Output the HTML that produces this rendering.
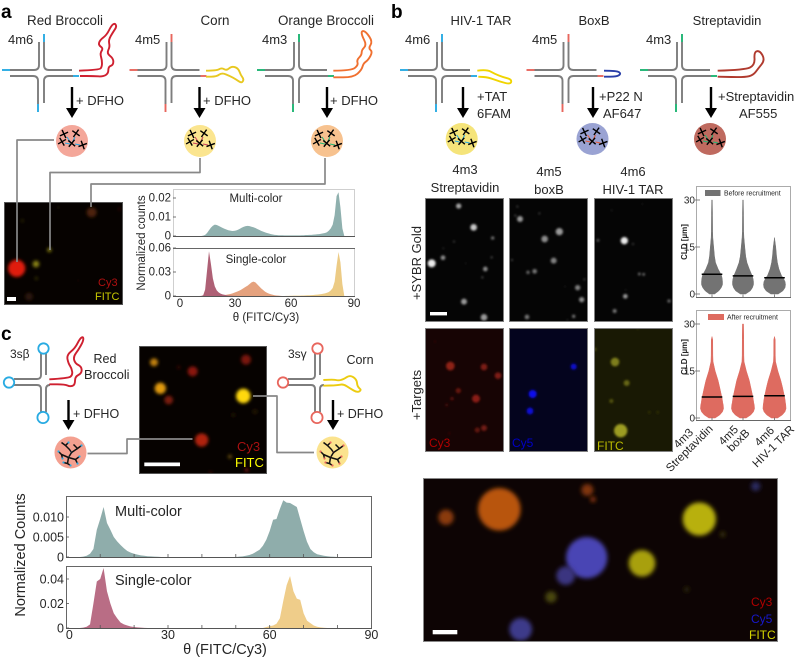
<!DOCTYPE html>
<html lang="en">
<head>
<meta charset="utf-8">
<title>Multi-color RNA condensates figure</title>
<style>
html,body{margin:0;padding:0;background:#fff;width:800px;height:660px;overflow:hidden}
svg{display:block;font-family:"Liberation Sans",sans-serif;fill:#262626}
.d{font-size:13px}
.t{font-size:11.5px}
.c{font-size:12.5px}
.m{text-anchor:middle}
.e{text-anchor:end}
.letter{font-size:19px;font-weight:bold;fill:#000}
</style>
</head>
<body>
<svg id="fig" xmlns="http://www.w3.org/2000/svg" width="800" height="660" viewBox="0 0 800 660">
<defs>
<filter id="blur1" x="-100%" y="-100%" width="300%" height="300%"><feGaussianBlur stdDeviation="1.5"/></filter>
<filter id="blur2" x="-100%" y="-100%" width="300%" height="300%"><feGaussianBlur stdDeviation="1"/></filter>
<filter id="blur3" x="-50%" y="-50%" width="200%" height="200%"><feGaussianBlur stdDeviation="2"/></filter>
</defs>

<g id="panel-labels">
<text class="letter" x="1" y="18">a</text>
<text class="letter" x="391" y="18">b</text>
<text class="letter" x="1" y="340">c</text>
</g>

<g id="diagrams"></g>
<g id="images"></g>
<g id="connectors"></g>
<g id="charts"></g>

<g id="text-a">
<text class="d m" x="65" y="25" style="font-size:13.4px">Red Broccoli</text>
<text class="d m" x="215" y="25" style="font-size:13.4px">Corn</text>
<text class="d m" x="326" y="25" style="font-size:13.4px">Orange Broccoli</text>
<text class="d" x="8" y="44">4m6</text>
<text class="d" x="135" y="44">4m5</text>
<text class="d" x="262" y="44">4m3</text>
<text class="d" x="76" y="105">+ DFHO</text>
<text class="d" x="203" y="105">+ DFHO</text>
<text class="d" x="330" y="105">+ DFHO</text>
<text class="t m" x="256" y="202">Multi-color</text>
<text class="t m" x="256" y="263">Single-color</text>
<text class="t m" transform="translate(145,243) rotate(-90)">Normalized counts</text>
<text class="t m" x="266" y="321">θ (FITC/Cy3)</text>
<text class="t" x="98" y="286" style="font-size:11px;fill:#b01010">Cy3</text>
<text class="t" x="95" y="300" style="font-size:11px;fill:#c8c800">FITC</text>
</g>

<g id="text-b">
<text class="d m" x="481" y="25">HIV-1 TAR</text>
<text class="d m" x="594" y="25">BoxB</text>
<text class="d m" x="727" y="25">Streptavidin</text>
<text class="d" x="405" y="44">4m6</text>
<text class="d" x="532" y="44">4m5</text>
<text class="d" x="646" y="44">4m3</text>
<text class="d" x="477" y="101">+TAT</text>
<text class="d" x="477" y="118">6FAM</text>
<text class="d" x="599" y="101">+P22 N</text>
<text class="d" x="603" y="118">AF647</text>
<text class="d" x="718" y="101">+Streptavidin</text>
<text class="d" x="739" y="118">AF555</text>
<text class="d m" x="465" y="174">4m3</text>
<text class="d m" x="465" y="192">Streptavidin</text>
<text class="d m" x="549" y="176">4m5</text>
<text class="d m" x="549" y="194">boxB</text>
<text class="d m" x="633" y="176">4m6</text>
<text class="d m" x="633" y="194">HIV-1 TAR</text>
<text class="d m" transform="translate(421,263) rotate(-90)">+SYBR Gold</text>
<text class="d m" transform="translate(421,395) rotate(-90)">+Targets</text>
<text x="429" y="447" style="font-size:12px;fill:#b00000">Cy3</text>
<text x="512" y="447" style="font-size:12px;fill:#0000c8">Cy5</text>
<text x="597" y="450" style="font-size:12px;fill:#bcbc00">FITC</text>
<text class="m" transform="translate(687,242) rotate(-90)" style="font-size:8px;font-weight:bold">CLD [µm]</text>
<text class="m" transform="translate(687,357) rotate(-90)" style="font-size:8px;font-weight:bold">CLD [µm]</text>
<text x="724" y="195.5" style="font-size:6.9px">Before recruitment</text>
<text x="727" y="319.5" style="font-size:6.9px">After recruitment</text>
<g class="d m">
<text class="d m" transform="translate(686,441) rotate(-45)" style="font-size:11.5px">4m3</text>
<text class="d m" transform="translate(692,451) rotate(-45)" style="font-size:11.5px">Streptavidin</text>
<text class="d m" transform="translate(731,438) rotate(-45)" style="font-size:11.5px">4m5</text>
<text class="d m" transform="translate(741,443) rotate(-45)" style="font-size:11.5px">boxB</text>
<text class="d m" transform="translate(767,439) rotate(-45)" style="font-size:11.5px">4m6</text>
<text class="d m" transform="translate(776,449) rotate(-45)" style="font-size:11.5px">HIV-1 TAR</text>
</g>
<text x="751" y="606" style="font-size:12px;fill:#b00000">Cy3</text>
<text x="751" y="623" style="font-size:12px;fill:#1818cc">Cy5</text>
<text x="749" y="639" style="font-size:12px;fill:#d4d400">FITC</text>
</g>

<g id="text-c">
<text x="10" y="358" style="font-size:12px">3sβ</text>
<text class="m" x="105" y="363" style="font-size:12.5px">Red</text>
<text x="84" y="379" style="font-size:12.8px">Broccoli</text>
<text x="288" y="358" style="font-size:12px">3sγ</text>
<text class="m" x="360" y="364" style="font-size:12.5px">Corn</text>
<text x="73" y="418" style="font-size:12.5px">+ DFHO</text>
<text x="337" y="418" style="font-size:12.5px">+ DFHO</text>
<text x="237" y="451" style="font-size:13px;fill:#a81010">Cy3</text>
<text x="235" y="467" style="font-size:13px;fill:#ffff00">FITC</text>
<text x="115" y="516" style="font-size:14.5px">Multi-color</text>
<text x="115" y="585" style="font-size:14.5px">Single-color</text>
<text class="m" transform="translate(25,555) rotate(-90)" style="font-size:14.5px">Normalized Counts</text>
<text class="m" x="225" y="654" style="font-size:14.5px">θ (FITC/Cy3)</text>
</g>

<script>
// ---------- chart data ----------
// panel a histograms, counts x 1e-3, one value per degree 0..90
var aMultiCounts = [0,0,0,0,0,0,0,0,0,0,0,0,.2,.6,1.6,3,4.4,5.4,6,5.8,5.3,4.8,4.3,3.8,3.4,3,2.8,2.6,2.7,2.9,3.3,3.8,4.4,4.9,5.2,5.3,5.2,4.9,4.6,4.2,3.7,3.2,2.7,2.3,1.9,1.6,1.3,1,.8,.6,.5,.4,.4,.4,.3,.3,.3,.3,.3,.3,.3,.3,.3,.4,.4,.5,.5,.6,.6,.7,.8,.9,1,1.2,1.4,1.6,2,2.8,4,6,11,21,23,15,4,0,0,0,0,0,0];
var aSingleRed = [0,0,0,0,0,0,0,0,0,0,0,.2,1,8,32,56,40,22,12,7,4.5,3,2,1.5,1,.7,.5,.3,.2,.1,0,0,0,0,0,0,0,0,0,0,0,0,0,0,0,0,0,0,0,0,0,0,0,0,0,0,0,0,0,0,0,0,0,0,0,0,0,0,0,0,0,0,0,0,0,0,0,0,0,0,0,0,0,0,0,0,0,0,0,0,0];
var aSingleOrange = [0,0,0,0,0,0,0,0,0,0,0,0,0,0,0,0,0,0,0,0,.3,.6,.9,1.2,1.5,2,2.5,3.2,4,5,6,7,8.5,10,11.5,13,15,17,18,17,14.5,12,9.5,7.5,5.5,4,3,2.2,1.5,1,.7,.4,.2,0,0,0,0,0,0,0,0,0,0,0,0,0,0,0,0,0,0,0,0,0,0,0,0,0,0,0,0,0,0,0,0,0,0,0,0,0,0];
var aSingleYellow = [0,0,0,0,0,0,0,0,0,0,0,0,0,0,0,0,0,0,0,0,0,0,0,0,0,0,0,0,0,0,0,0,0,0,0,0,0,0,0,0,0,0,0,0,0,0,0,0,0,0,0,0,0,0,0,.2,.2,.3,.3,.4,.4,.5,.5,.6,.7,.8,.9,1,1.1,1.3,1.5,1.7,2,2.4,2.8,3.3,4,5,7,10,18,38,55,42,15,0,0,0,0,0,0];
// panel c histograms, counts x 1e-3, one value per degree 0..90
var cMultiCounts = [0,0,0,0,0,.1,.3,.8,2,6.8,9.5,12.5,8.5,6.8,5,3.9,3,2.2,1.5,1.1,.8,.6,.4,.3,.2,.15,.1,.05,0,0,0,0,0,0,0,0,0,0,0,0,0,0,0,0,0,0,0,0,0,0,0,.1,.15,.3,.5,.8,1.3,1.8,2.8,4.3,6.5,9.3,9.5,12,14.2,13.6,13.5,13,12.5,9.5,6.5,3.8,2,1.2,.7,.5,.3,.2,.1,.05,0,0,0,0,0,0,0,0,0,0,0];
var cSingleRed = [0,0,0,0,0,.3,1,3,20,38,40,49,30,20,12,8,4.5,3,2,1.2,.8,.5,.3,.1,0,0,0,0,0,0,0,0,0,0,0,0,0,0,0,0,0,0,0,0,0,0,0,0,0,0,0,0,0,0,0,0,0,0,0,0,0,0,0,0,0,0,0,0,0,0,0,0,0,0,0,0,0,0,0,0,0,0,0,0,0,0,0,0,0,0,0];
var cSingleYellow = [0,0,0,0,0,0,0,0,0,0,0,0,0,0,0,0,0,0,0,0,0,0,0,0,0,0,0,0,0,0,0,0,0,0,0,0,0,0,0,0,0,0,0,0,0,0,0,0,0,0,0,0,0,0,0,0,0,0,0,.8,1.5,2,3.5,8,22,35,42.5,30,24,23,12,6,4,2,1,.5,.2,0,0,0,0,0,0,0,0,0,0,0,0,0,0];
// tick labels
var thetaTicks = [0,30,60,90];
var aMultiTicks = [0,10,20];
var aMultiTickLabels = ['0','0.01','0.02'];
var aSingleTicks = [0,30,60];
var aSingleTickLabels = ['0','0.03','0.06'];
var cMultiTicks = [0,5,10];
var cMultiTickLabels = ['0','0.005','0.010'];
var cSingleTicks = [0,20,40];
var cSingleTickLabels = ['0','0.02','0.04'];
var cThetaMinor = [10,20,30,40,50,60,70,80];
// violins: relative half-width at each CLD level
var cldLevels = [0,1,2,3,4,5,6,8,10,12,15,18,20,25,26,30];
var cldTicks = [0,15,30];
var beforeStrep = [.25,.65,.88,1,1,.97,.9,.58,.34,.24,.16,.08,.06,.05,.05,.03];
var beforeBoxB = [.25,.7,.9,1,1,.95,.85,.6,.38,.26,.17,.09,.06,.05,.05,.03];
var beforeTar = [.35,.8,1,1.05,1,.85,.65,.42,.28,.2,.12,0,0,0,0,0];
var afterStrep = [.3,.75,1,1.1,1.08,1.02,.98,.85,.72,.58,.3,.1,.08,.07,0,0];
var afterBoxB = [.3,.75,1,1.1,1.08,1.02,.98,.86,.73,.6,.32,.1,.08,.07,.07,.05];
var afterTar = [.3,.75,1,1.1,1.08,1.04,1,.88,.75,.6,.32,.1,.08,.07,0,0];
var beforeMedians = [6.3,5.8,5.2];
var afterMedians = [6.7,6.9,7.1];

// ---------- helpers ----------
var NS = 'http://www.w3.org/2000/svg';
function add(parent, tag, attrs, name, text) {
  var el = document.createElementNS(NS, tag);
  for (var k in attrs) { el.setAttribute(k, attrs[k]); }
  
  
  if (text !== undefined) { el.textContent = text; }
  parent.appendChild(el);
  return el;
}
var dg = document.getElementById('diagrams');
var im = document.getElementById('images');
var cn = document.getElementById('connectors');
var ch = document.getElementById('charts');
var GRAY = '#7d7d7d', BLUE = '#29abe2', RED = '#e8665d', GREEN = '#1fb573';

function line(g, d, color, w, name) {
  add(g, 'path', {d: d, fill: 'none', stroke: color, 'stroke-width': w, 'stroke-linejoin': 'round'}, name);
}
// smooth tail through points given in 3x-zoom coordinates
function tail(g, pts, dx, dy, color, name) {
  var p = pts.map(function (q) { return [q[0] / 3 + dx, q[1] / 3 + dy]; });
  var d = 'M' + p[0][0] + ',' + p[0][1];
  for (var i = 1; i < p.length - 1; i++) {
    var mx = (p[i][0] + p[i + 1][0]) / 2, my = (p[i][1] + p[i + 1][1]) / 2;
    d += ' Q' + p[i][0] + ',' + p[i][1] + ' ' + mx + ',' + my;
  }
  d += ' L' + p[p.length - 1][0] + ',' + p[p.length - 1][1];
  line(g, d, color, 1.9, name);
}
function junction(ox, tip, tailColor, pts, tailDx, tailDy, nm) {
  var g = add(dg, 'g', {}, nm);
  line(g, 'M' + (ox + 10) + ',70 H' + (ox + 34) + ' Q' + (ox + 39) + ',70 ' + (ox + 39) + ',65 V42', GRAY, 1.9, 'strand');
  line(g, 'M' + (ox + 44) + ',42 V65 Q' + (ox + 44) + ',70 ' + (ox + 49) + ',70 H' + (ox + 72), GRAY, 1.9, 'strand');
  line(g, 'M' + (ox + 10) + ',76 H' + (ox + 33) + ' Q' + (ox + 38) + ',76 ' + (ox + 38) + ',81 V104', GRAY, 1.9, 'strand');
  line(g, 'M' + (ox + 44) + ',103 V81 Q' + (ox + 44) + ',76 ' + (ox + 49) + ',76 H' + (ox + 73), GRAY, 1.9, 'strand');
  line(g, 'M' + (ox + 2) + ',70 H' + (ox + 10), tip, 1.9, 'sticky-end');
  line(g, 'M' + (ox + 44) + ',34 V42', tip, 1.9, 'sticky-end');
  line(g, 'M' + (ox + 38) + ',104 V112', tip, 1.9, 'sticky-end');
  line(g, 'M' + (ox + 73) + ',76 H' + (ox + 79), tip, 1.9, 'sticky-end');
  tail(g, pts, tailDx, tailDy, tailColor, 'aptamer-tail');
}
function arrow(x, y1, y2) {
  var g = add(dg, 'g', {}, 'reaction-arrow');
  line(g, 'M' + x + ',' + y1 + ' V' + (y2 - 8), '#000', 2.4, 'arrow-shaft');
  add(g, 'path', {d: 'M' + (x - 6) + ',' + (y2 - 10) + ' H' + (x + 6) + ' L' + x + ',' + y2 + ' Z', fill: '#000'}, 'arrow-head');
}
var crossPos = [[-8,-7,20],[4,-7.7,-10],[-10,.7,15],[-.3,2.3,-5],[10.7,4,25]];
function crossDroplet(cx, cy, fill, tip) {
  var g = add(dg, 'g', {}, 'droplet');
  add(g, 'circle', {cx: cx, cy: cy, r: 16, fill: fill}, 'droplet-circle');
  add(g, 'path', {d: 'M' + (cx - 5) + ',' + (cy - 4) + ' L' + (cx - 1) + ',' + (cy + 2) + ' M' + (cx + 3) + ',' + (cy - 4) + ' L' + cx + ',' + (cy + 2) + ' M' + (cx - 7) + ',' + (cy + 2) + ' L' + (cx - 2) + ',' + (cy + 3) + ' M' + (cx + 3) + ',' + (cy + 3) + ' L' + (cx + 8) + ',' + (cy + 4), stroke: tip, 'stroke-width': 1, fill: 'none'}, 'network-links');
  crossPos.forEach(function (c) {
    var a = c[2] * Math.PI / 180, r = 4.5;
    [45, 135].forEach(function (b) {
      var t = a + b * Math.PI / 180, dx = Math.cos(t) * r, dy = Math.sin(t) * r;
      add(g, 'line', {x1: cx + c[0] - dx, y1: cy + c[1] - dy, x2: cx + c[0] + dx, y2: cy + c[1] + dy, stroke: '#000', 'stroke-width': 1.4}, 'nanostar-arm');
    });
  });
}
var skeleton = [[[-9,-10],[-5,-7],[-2,-10]],[[-5,-7],[-1,-3],[1,0]],[[3,-8],[7,-4],[11,-7]],[[7,-4],[1,0],[-2,5]],[[-2,5],[-9,2],[-12,-1]],[[-9,2],[-8,6]],[[-2,5],[5,7],[9,4]],[[5,7],[7,11]],[[-2,5],[-3,11],[-7,10]],[[-3,11],[0,13]]];
function skeletonDroplet(cx, cy, fill, tip) {
  var g = add(dg, 'g', {}, 'droplet');
  add(g, 'circle', {cx: cx, cy: cy, r: 16, fill: fill}, 'droplet-circle');
  skeleton.forEach(function (s) {
    var d = s.map(function (p, i) { return (i ? 'L' : 'M') + (cx + p[0]) + ',' + (cy + p[1]); }).join(' ');
    line(g, d, '#111', 1.5, 'network-branch');
    var e = s[s.length - 1];
    add(g, 'circle', {cx: cx + e[0], cy: cy + e[1], r: 1.1, fill: tip}, 'sticky-end-dot');
  });
}
function threeArm(ox, loop, tailColor, pts, dy, nm) {
  var g = add(dg, 'g', {}, nm);
  var cx = ox, cy = 382;
  line(g, 'M' + (cx - 3) + ',' + (cy - 7) + ' V' + (cy - 29) + ' M' + (cx + 2) + ',' + (cy - 7) + ' V' + (cy - 29), GRAY, 1.9, 'arm-top');
  line(g, 'M' + (cx - 3) + ',' + (cy - 7) + ' Q' + (cx - 3) + ',' + (cy - 3) + ' ' + (cx - 7) + ',' + (cy - 3) + ' H' + (cx - 30), GRAY, 1.9, 'arm-left');
  line(g, 'M' + (cx - 30) + ',' + (cy + 3) + ' H' + (cx - 7) + ' Q' + (cx - 3) + ',' + (cy + 3) + ' ' + (cx - 3) + ',' + (cy + 7) + ' V' + (cy + 30), GRAY, 1.9, 'arm-lower');
  line(g, 'M' + (cx + 2) + ',' + (cy + 30) + ' V' + (cy + 7) + ' Q' + (cx + 2) + ',' + (cy + 3) + ' ' + (cx + 6) + ',' + (cy + 3), GRAY, 1.9, 'arm-right');
  add(g, 'circle', {cx: cx - .5, cy: cy - 33.5, r: 5.2, fill: '#fff', stroke: loop, 'stroke-width': 1.8}, 'hairpin-loop');
  add(g, 'circle', {cx: cx - 35, cy: cy + .5, r: 5.2, fill: '#fff', stroke: loop, 'stroke-width': 1.8}, 'hairpin-loop');
  add(g, 'circle', {cx: cx - 1, cy: cy + 35.5, r: 5.6, fill: '#fff', stroke: loop, 'stroke-width': 1.8}, 'hairpin-loop');
  tail(g, pts, 0, dy, tailColor, 'aptamer-tail');
}

// ---------- diagrams ----------
junction(0, BLUE, '#cf2030', [[237,167],[298,165],[306,155],[306,135],[300,115],[310,100],[295,90],[300,75],[320,60],[335,30],[345,25],[350,35],[340,50],[325,75],[330,95],[320,115],[340,130],[340,150],[325,155],[325,175],[310,185],[280,183],[240,183]], 0, 15, 'red-broccoli-junction');
junction(127.5, RED, '#e8c820', [[618,212],[650,212],[665,203],[680,212],[695,198],[715,205],[722,225],[732,238],[725,250],[708,238],[690,228],[665,218],[650,230],[618,230]], 0, 0, 'corn-junction');
junction(255, GREEN, '#f07030', [[1000,212],[1055,212],[1075,195],[1070,180],[1085,165],[1085,150],[1100,135],[1085,105],[1085,92],[1098,95],[1118,125],[1105,145],[1118,155],[1105,180],[1090,190],[1085,210],[1060,232],[1000,232]], 0, 0, 'orange-broccoli-junction');
junction(398, BLUE, '#f0d400', [[232,212],[260,208],[285,222],[310,232],[335,238],[332,253],[300,245],[265,232],[235,230]], 400, 0, 'hiv-tar-junction');
junction(524.5, RED, '#2a3fa8', [[612,212],[650,212],[664,221],[650,230],[612,230]], 400, 0, 'boxb-junction');
junction(638, GREEN, '#b03a2e', [[953,212],[1035,210],[1065,195],[1062,155],[1080,152],[1095,180],[1075,205],[1060,225],[1035,232],[953,230]], 400, 0, 'streptavidin-junction');
[72,199.5,327,463,593,711].forEach(function (x) { arrow(x, 87, 118); });
crossDroplet(72, 141, '#f4a79a', BLUE);
crossDroplet(200, 141, '#fbe58f', '#c8405a');
crossDroplet(327, 141, '#f7c28f', GREEN);
crossDroplet(461.7, 139, '#f5e47a', BLUE);
crossDroplet(592.5, 139, '#9aa3d3', '#e85d3c');
crossDroplet(710, 139, '#bf6a5f', GREEN);
threeArm(44, BLUE, '#cf2030', [[148,133],[205,130],[218,120],[215,100],[205,85],[200,60],[225,40],[240,10],[250,5],[250,18],[235,45],[220,65],[225,85],[245,95],[245,115],[225,125],[225,150],[210,155],[195,148],[148,148]], 335, 'red-broccoli-three-arm');
threeArm(318, RED, '#eccc10', [[970,180],[1000,178],[1015,182],[1030,178],[1050,165],[1070,178],[1072,200],[1085,210],[1072,218],[1050,205],[1030,192],[1012,196],[970,197]], 320, 'corn-three-arm');
arrow(68.5, 400, 430);
arrow(333, 400, 430);
skeletonDroplet(70.5, 452.5, '#f4a090', BLUE);
skeletonDroplet(332.5, 452.5, '#fbe38e', RED);

// ---------- images: dots in 3x-zoom coordinates ----------
function image(x, y, w, h, bg, frame, dots, dx, dy, blur, nm, bar) {
  var clipId = 'clip' + nm;
  var cp = add(im, 'clipPath', {id: clipId}, nm + '-clip');
  add(cp, 'rect', {x: x, y: y, width: w, height: h}, nm + '-clip-rect');
  var g = add(im, 'g', {'clip-path': 'url(#' + clipId + ')'}, nm);
  add(g, 'rect', {x: x, y: y, width: w, height: h, fill: bg}, nm + '-background');
  dots.forEach(function (d) {
    add(g, 'circle', {cx: d[0] / 3 + dx, cy: d[1] / 3 + dy, r: d[2] / 3, fill: d[3], filter: 'url(#' + blur + ')'}, 'droplet-spot');
  });
  if (bar) { add(g, 'rect', {x: bar[0], y: bar[1], width: bar[2], height: bar[3], fill: '#fff'}, 'scale-bar'); }
  if (frame) { add(im, 'rect', {x: x + .5, y: y + .5, width: w - 1, height: h - 1, fill: 'none', stroke: frame, 'stroke-width': 1}, nm + '-frame'); }
}
function gr(v) { var c = Math.round(v * 235); return 'rgb(' + c + ',' + c + ',' + c + ')'; }
var imgA = [[50,805,26,'#e01a08'],[108,792,10,'#8a8412'],[148,750,6,'#9a9212'],[275,637,15,'#4e2208'],[87,890,12,'#2c1408'],[109,835,4,'#4a460a'],[67,662,4,'#3a3608'],[175,622,3,'#2a2606'],[358,627,4,'#3a1006'],[235,842,3,'#241c04']];
image(4, 202, 119, 103, '#060200', '#555', imgA, 0, 0, 'blur1', 'image-a', [7, 297, 9, 4]);

var s1 = [[176,168,8,.7],[221,232,10,.85],[278,264,5,.5],[162,275,3,.3],[129,323,7,.6],[95,340,12,1],[275,322,3,.4],[256,357,7,.6],[247,382,3,.4],[192,455,9,.65],[252,502,10,.65],[130,295,2,.3],[197,340,2,.2]].map(function (d) { return [d[0], d[1], d[2], gr(d[3])]; });
var s2 = [[360,207,9,.65],[352,170,3,.3],[418,190,3,.3],[346,197,3,.35],[478,245,11,.65],[434,267,10,.6],[461,332,9,.55],[336,330,3,.35],[384,367,5,.45],[404,364,7,.5],[553,388,3,.3],[533,413,8,.55],[545,449,8,.6],[495,410,2,.2],[381,501,7,.5],[521,499,5,.5],[502,510,2,.3]].map(function (d) { return [d[0], d[1], d[2], gr(d[3])]; });
var s3 = [[673,272,11,1],[594,271,4,.4],[699,282,3,.3],[635,181,2,.25],[727,162,2,.2],[718,372,4,.5],[731,373,4,.5],[677,420,2,.25],[676,439,7,.65],[807,453,5,.45],[644,483,6,.5]].map(function (d) { return [d[0], d[1], d[2], gr(d[3])]; });
image(425, 198, 79, 124, '#050505', '#808080', s1, 400, 150, 'blur2', 'sybr-streptavidin', [430, 312, 17, 3.4]);
image(509, 198, 79, 124, '#050505', '#808080', s2, 400, 150, 'blur2', 'sybr-boxb');
image(594, 198, 79, 124, '#050505', '#808080', s3, 400, 150, 'blur2', 'sybr-tar');
var t1 = [[151,648,13,'#8e2018'],[252,651,10,'#7c1c14'],[294,677,10,'#7e1c14'],[175,722,8,'#661610'],[228,746,12,'#881c14'],[156,746,5,'#5a120c'],[140,765,4,'#4a100a'],[252,834,9,'#701a12'],[232,840,8,'#5e140e'],[105,575,3,'#3a0c08'],[148,850,3,'#440e08']];
var t2 = [[398,732,12,'#1010ee'],[390,783,10,'#1010d8'],[521,650,9,'#1010cc']];
var t3 = [[645,636,13,'#7e7e1a'],[680,699,9,'#666612'],[634,753,6,'#55550e'],[662,842,20,'#9c9c22'],[585,598,5,'#44440a'],[748,787,4,'#333308'],[773,787,4,'#333308'],[713,535,3,'#44440a']];
image(425, 328, 79, 124, '#170404', '#808080', t1, 400, 150, 'blur2', 'targets-cy3');
image(509, 328, 79, 124, '#04041e', '#808080', t2, 400, 150, 'blur2', 'targets-cy5');
image(594, 328, 79, 124, '#191904', '#808080', t3, 400, 150, 'blur2', 'targets-fitc');
var imgC = [[462,127,12,'#c08010'],[578,154,15,'#8a1510'],[738,119,15,'#7a150c'],[481,205,17,'#e09a10'],[506,240,13,'#7a1a10'],[730,228,22,'#ffd808'],[605,360,20,'#b02008'],[690,410,6,'#6a5008'],[536,142,5,'#3a0c05'],[740,450,6,'#6a1008'],[765,275,8,'#201404'],[700,285,8,'#181004'],[632,458,5,'#3a0c05']];
image(139, 346, 128, 128, '#060200', '#555', imgC, 0, 320, 'blur1', 'image-c', [144.3, 462.5, 35.7, 3.7]);
var imgB = [[268,133,64,'#b85510'],[108,157,23,'#8a3a10'],[532,75,18,'#803510'],[549,103,8,'#9a3a10'],[530,278,62,'#4a44b4'],[467,332,28,'#3a3480'],[332,493,34,'#3d3a8a'],[1037,64,14,'#2a2a60'],[868,162,50,'#b8b010'],[696,295,40,'#a8a010'],[423,396,17,'#4a4610'],[938,208,8,'#3a3608'],[830,373,8,'#2a2808']];
image(423, 478, 355, 164, '#0d0404', '#888', imgB, 410, 465, 'blur3', 'image-large', [432.7, 630, 24.6, 4.3]);

// ---------- connector lines ----------
var connectorPaths = ['M54,140 H17 V262','M200,158 V172.5 H50 V250','M325,158 V184 H91 V207','M253,396 H277 V452.5 H314','M87.5,453.5 H127 V439 H192.5'];
connectorPaths.forEach(function (d) { line(cn, d, '#888', 1.7, 'connector-line'); });

// ---------- histogram axes ----------
function histPanel(g, xLeft, xRight, x0, xPerDeg, yBase, yTop, yPer, series, ticks, tickLabels, tickRightX, tlSize, frameColor, tlDy) {
  function xScale(t) { return x0 + t * xPerDeg; }
  function yScale(v) { return yBase - v * yPer; }
  series.forEach(function (s) {
    var d = 'M' + xScale(0) + ',' + yBase;
    s.values.forEach(function (v, i) { d += ' L' + xScale(i) + ',' + yScale(v); });
    d += ' L' + xScale(s.values.length - 1) + ',' + yBase + ' Z';
    add(g, 'path', {d: d, fill: s.color, stroke: 'none'}, s.name);
  });
  add(g, 'rect', {x: xLeft + .5, y: yTop + .5, width: xRight - xLeft - 1, height: yBase - yTop, fill: 'none', stroke: frameColor, 'stroke-width': 1}, 'plot-frame');
  add(g, 'line', {x1: xLeft, y1: yBase + .5, x2: xRight, y2: yBase + .5, stroke: '#555', 'stroke-width': 1}, 'x-axis-line');
  ticks.forEach(function (t, i) {
    add(g, 'line', {x1: xLeft, y1: yScale(t), x2: xLeft + 3, y2: yScale(t), stroke: '#555', 'stroke-width': .8}, 'y-tick');
    var el = add(g, 'text', {x: tickRightX, y: yScale(t) + tlDy, 'text-anchor': 'end'}, 'y-tick-label', tickLabels[i]);
    el.style.fontSize = tlSize + 'px';
  });
}
function xLabels(g, x0, xPerDeg, baseY, size, shift) {
  thetaTicks.forEach(function (t) {
    var el = add(g, 'text', {x: x0 + t * xPerDeg + (shift ? shift(t) : 0), y: baseY, 'text-anchor': 'middle'}, 'x-tick-label', String(t));
    el.style.fontSize = size + 'px';
  });
}
var gA = add(ch, 'g', {}, 'panel-a-histograms');
histPanel(gA, 173, 355, 180, 1.933, 236, 189, 1.9, [{values: aMultiCounts, color: '#8fb0ae', name: 'multi-color-area'}], aMultiTicks, aMultiTickLabels, 171, 11.5, '#cfcfcf', 3.5);
histPanel(gA, 173, 355, 180, 1.933, 296, 248, 0.8, [
  {values: aSingleOrange, color: '#e5a27e', name: 'single-orange-area'},
  {values: aSingleYellow, color: '#eccb85', name: 'single-yellow-area'},
  {values: aSingleRed, color: '#ae6075', name: 'single-red-area'}
], aSingleTicks, aSingleTickLabels, 171, 11.5, '#cfcfcf', 3.5);
add(gA, 'line', {x1: 173, y1: 248.5, x2: 355, y2: 248.5, stroke: '#666', 'stroke-width': 1}, 'single-panel-top-line');
xLabels(gA, 180, 1.933, 307, 11.5, function (t) { return [0, -3, -5, 0][thetaTicks.indexOf(t)]; });
var gC = add(ch, 'g', {}, 'panel-c-histograms');
histPanel(gC, 66, 372, 66.3, 3.39, 557, 496, 4, [{values: cMultiCounts, color: '#8fadab', name: 'multi-color-area'}], cMultiTicks, cMultiTickLabels, 64, 12.5, '#666', 4.5);
histPanel(gC, 66, 372, 66.3, 3.39, 628, 566, 1.225, [
  {values: cSingleYellow, color: '#efcd8a', name: 'single-yellow-area'},
  {values: cSingleRed, color: '#b96d85', name: 'single-red-area'}
], cSingleTicks, cSingleTickLabels, 64, 12.5, '#666', 4.5);
cThetaMinor.forEach(function (t) {
  add(gC, 'line', {x1: 66.3 + t * 3.39, y1: 554, x2: 66.3 + t * 3.39, y2: 557, stroke: '#555', 'stroke-width': .8}, 'x-tick');
  add(gC, 'line', {x1: 66.3 + t * 3.39, y1: 625, x2: 66.3 + t * 3.39, y2: 628, stroke: '#555', 'stroke-width': .8}, 'x-tick');
});
xLabels(gC, 66.3, 3.39, 639, 12.5, function (t) { return t === 0 ? 3 : 0; });

// ---------- violins ----------
var violinCenters = [712, 743, 774.5];
function violinPanel(nm, top, bottom, y30, y0, color, seriesList, medians, swatchX, swatchY, swatchW) {
  var g = add(ch, 'g', {}, nm);
  function yScale(v) { return y0 - v * (y0 - y30) / 30; }
  add(g, 'rect', {x: 696.5, y: top + .5, width: 94, height: bottom - top, fill: 'none', stroke: '#ababab', 'stroke-width': 1}, 'plot-frame');
  add(g, 'line', {x1: 696, y1: bottom + .5, x2: 791, y2: bottom + .5, stroke: '#666', 'stroke-width': 1}, 'x-axis-line');
  cldTicks.forEach(function (t) {
    add(g, 'line', {x1: 695, y1: yScale(t), x2: 700, y2: yScale(t), stroke: '#666', 'stroke-width': .8}, 'y-tick');
    var el = add(g, 'text', {x: 695, y: yScale(t) + 3.5, 'text-anchor': 'end'}, 'y-tick-label', String(t));
    el.style.fontSize = '10px';
  });
  seriesList.forEach(function (dens, i) {
    var cx = violinCenters[i], n = dens.length;
    while (n > 0 && dens[n - 1] === 0) { n--; }
    var last = Math.min(n, cldLevels.length - 1);
    var right = '', left = '';
    for (var k = 0; k <= last; k++) {
      var w = (k < n ? dens[k] : 0) * 10.5;
      right += (k ? 'L' : 'M') + (cx + w) + ',' + yScale(cldLevels[k]) + ' ';
      left = 'L' + (cx - w) + ',' + yScale(cldLevels[k]) + ' ' + left;
    }
    add(g, 'path', {d: right + left + 'Z', fill: color, stroke: color, 'stroke-width': .5, 'stroke-linejoin': 'round'}, 'violin-' + i);
    add(g, 'line', {x1: cx - 10.3, y1: yScale(medians[i]), x2: cx + 10.3, y2: yScale(medians[i]), stroke: '#000', 'stroke-width': 1.5}, 'violin-median-' + i);
    add(g, 'line', {x1: cx, y1: bottom, x2: cx, y2: bottom - 2.5, stroke: '#666', 'stroke-width': .8}, 'x-tick');
  });
  add(g, 'rect', {x: swatchX, y: swatchY, width: swatchW, height: 6, fill: color}, 'legend-swatch');
}
violinPanel('violin-before', 186, 297, 200, 294, '#737373', [beforeStrep, beforeBoxB, beforeTar], beforeMedians, 705, 190, 15.5);
violinPanel('violin-after', 310, 420, 324, 418, '#de6b60', [afterStrep, afterBoxB, afterTar], afterMedians, 708, 314, 16);
</script>
</svg>
</body>
</html>
